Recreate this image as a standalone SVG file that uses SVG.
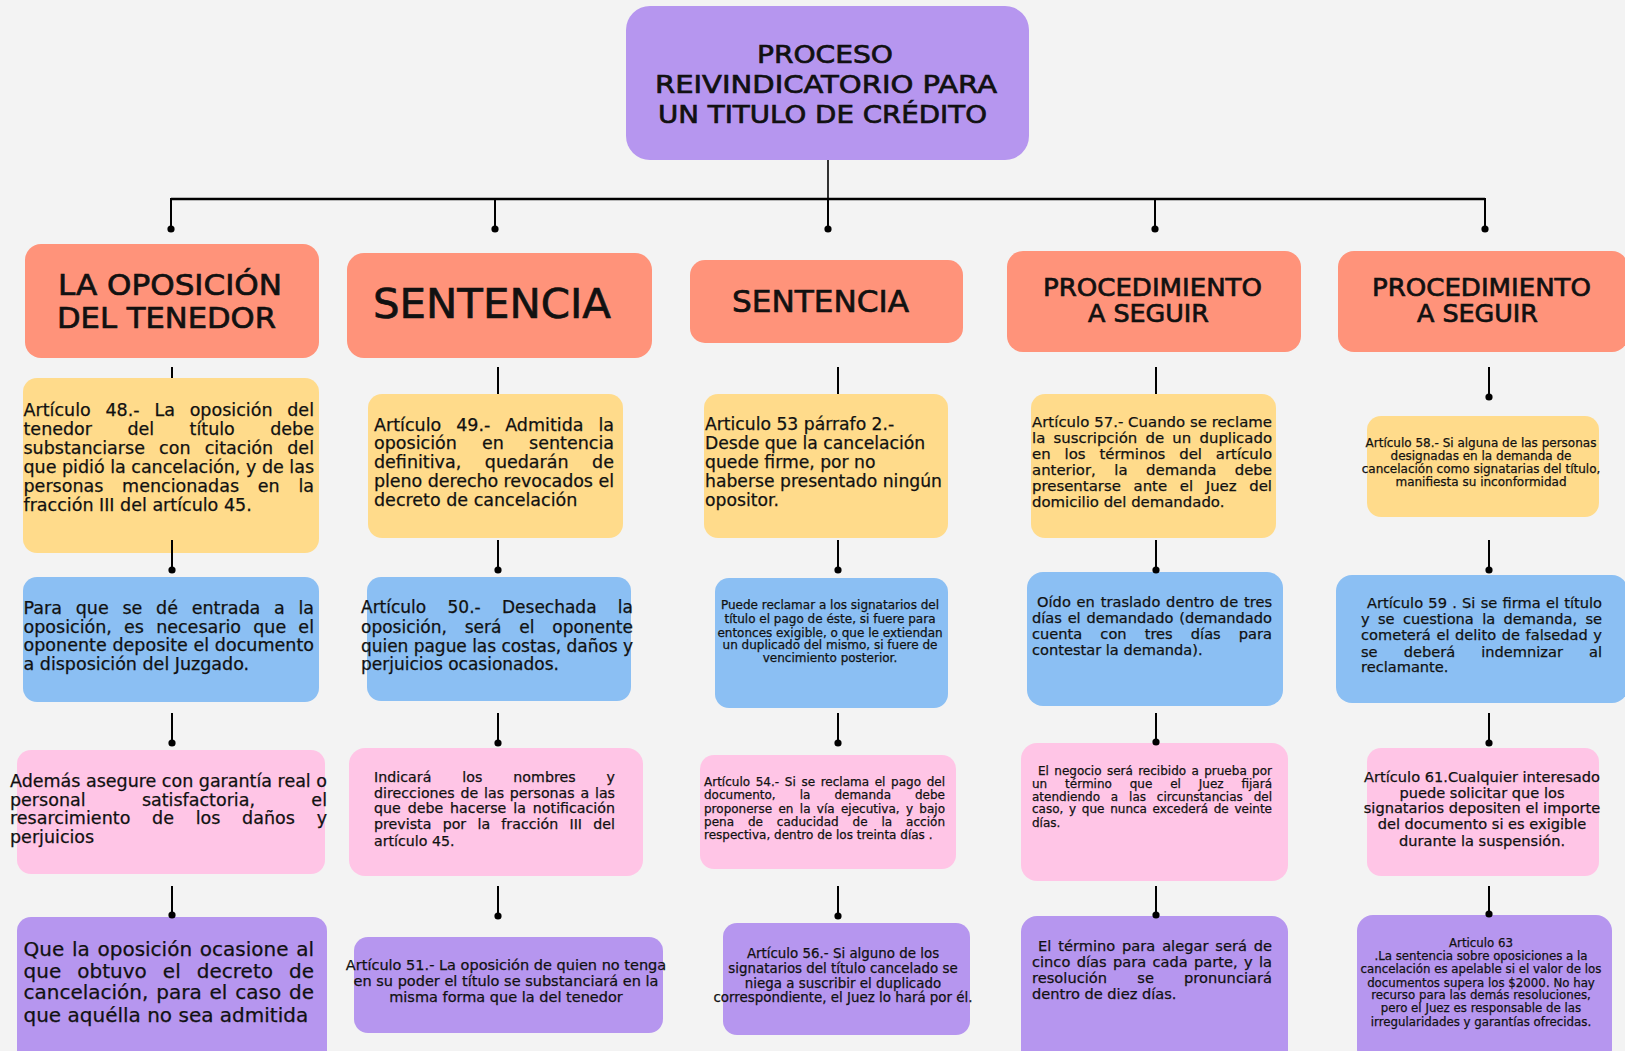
<svg xmlns="http://www.w3.org/2000/svg" width="1625" height="1051" viewBox="0 0 1625 1051">
<defs>
<style>
.hd{fill:#FF937A}.ye{fill:#FFDB8B}.bl{fill:#8BBFF3}.pk{fill:#FFC5E6}.pu{fill:#B696EF}
text{font-family:"DejaVu Sans","Liberation Sans",sans-serif;fill:#111;stroke:#111;stroke-width:0.25}
.ttl text{stroke-width:0.7}
.c{text-anchor:middle}
.conn line{stroke:#000;stroke-width:2}
.conn .bar{stroke-width:2.6}
</style>
<marker id="dot" markerUnits="userSpaceOnUse" markerWidth="9" markerHeight="9" refX="4.5" refY="4.5"><circle cx="4.5" cy="4.5" r="3.6" fill="#000"/></marker>
</defs>
<rect width="1625" height="1051" fill="#f3f3f3"/>

<g id="root" class="ttl">
<rect class="pu" x="626" y="6" width="403" height="154" rx="24"/>
<g font-size="25">
<text x="757" y="63" textLength="136" lengthAdjust="spacingAndGlyphs">PROCESO</text>
<text x="655" y="93" textLength="342" lengthAdjust="spacingAndGlyphs">REIVINDICATORIO PARA</text>
<text x="658" y="123" textLength="329" lengthAdjust="spacingAndGlyphs">UN TITULO DE CRÉDITO</text>
</g>
</g>

<!-- Column 1 -->
<g id="h1" class="ttl">
<rect class="hd" x="25" y="244" width="294" height="114" rx="16"/>
<g font-size="28.5">
<text x="58" y="295" textLength="224" lengthAdjust="spacingAndGlyphs">LA OPOSICIÓN</text>
<text x="57" y="328" textLength="219" lengthAdjust="spacingAndGlyphs">DEL TENEDOR</text>
</g>
</g>
<g id="c1y">
<rect class="ye" x="23" y="378" width="296" height="175" rx="14"/>
<g font-size="17.5">
<text x="23.5" y="415.5" word-spacing="9.2" textLength="290.5" lengthAdjust="spacing">Artículo 48.- La oposición del</text>
<text x="23.5" y="434.5" word-spacing="29.9" textLength="290.5" lengthAdjust="spacing">tenedor del título debe</text>
<text x="23.5" y="453.5" word-spacing="8.6" textLength="290.5" lengthAdjust="spacing">substanciarse con citación del</text>
<text x="23.5" y="472.5" textLength="290.5" lengthAdjust="spacing">que pidió la cancelación, y de las</text>
<text x="23.5" y="491.5" word-spacing="13.2" textLength="290.5" lengthAdjust="spacing">personas mencionadas en la</text>
<text x="23.5" y="510.7">fracción III del artículo 45.</text>
</g>
</g>
<g id="c1b">
<rect class="bl" x="23" y="577" width="296" height="125" rx="14"/>
<g font-size="17.5">
<text x="23.5" y="614" word-spacing="8.1" textLength="290.5" lengthAdjust="spacing">Para que se dé entrada a la</text>
<text x="23.5" y="632.7" word-spacing="6.6" textLength="290.5" lengthAdjust="spacing">oposición, es necesario que el</text>
<text x="23.5" y="651.3" textLength="290.5" lengthAdjust="spacing">oponente deposite el documento</text>
<text x="23.5" y="670">a disposición del Juzgado.</text>
</g>
</g>
<g id="c1p">
<rect class="pk" x="17" y="750" width="308" height="124" rx="14"/>
<g font-size="17.5">
<text x="10" y="786.7" textLength="317" lengthAdjust="spacing">Además asegure con garantía real o</text>
<text x="10" y="805.7" word-spacing="50.8" textLength="317" lengthAdjust="spacing">personal satisfactoria, el</text>
<text x="10" y="824.3" word-spacing="16.1" textLength="317" lengthAdjust="spacing">resarcimiento de los daños y</text>
<text x="10" y="842.7">perjuicios</text>
</g>
</g>
<g id="c1u">
<rect class="pu" x="17" y="917" width="310" height="150" rx="14"/>
<g font-size="20">
<text x="23.5" y="956" word-spacing="1.35" textLength="290.5" lengthAdjust="spacing">Que la oposición ocasione al</text>
<text x="23.5" y="977.7" word-spacing="9.6" textLength="290.5" lengthAdjust="spacing">que obtuvo el decreto de</text>
<text x="23.5" y="999.3" word-spacing="1.5" textLength="290.5" lengthAdjust="spacing">cancelación, para el caso de</text>
<text x="23.5" y="1021.7">que aquélla no sea admitida</text>
</g>
</g>

<!-- Column 2 -->
<g id="h2" class="ttl">
<rect class="hd" x="347" y="253" width="305" height="105" rx="17"/>
<text x="373" y="318" font-size="41" textLength="238" lengthAdjust="spacingAndGlyphs">SENTENCIA</text>
</g>
<g id="c2y">
<rect class="ye" x="368" y="394" width="255" height="144" rx="14"/>
<g font-size="17.5">
<text x="374" y="430.7" word-spacing="9.3" textLength="240" lengthAdjust="spacing">Artículo 49.- Admitida la</text>
<text x="374" y="449.3" word-spacing="19.6" textLength="240" lengthAdjust="spacing">oposición en sentencia</text>
<text x="374" y="468" word-spacing="18" textLength="240" lengthAdjust="spacing">definitiva, quedarán de</text>
<text x="374" y="487" textLength="240" lengthAdjust="spacing">pleno derecho revocados el</text>
<text x="374" y="506">decreto de cancelación</text>
</g>
</g>
<g id="c2b">
<rect class="bl" x="367" y="577" width="264" height="124" rx="14"/>
<g font-size="17">
<text x="361" y="613.3" word-spacing="15.9" textLength="272" lengthAdjust="spacing">Artículo 50.- Desechada la</text>
<text x="361" y="632.7" word-spacing="12.4" textLength="272" lengthAdjust="spacing">oposición, será el oponente</text>
<text x="361" y="651.7" textLength="272" lengthAdjust="spacing">quien pague las costas, daños y</text>
<text x="361" y="670">perjuicios ocasionados.</text>
</g>
</g>
<g id="c2p">
<rect class="pk" x="349" y="748" width="294" height="128" rx="16"/>
<g font-size="14.2">
<text x="374" y="781.7" word-spacing="26.4" textLength="241" lengthAdjust="spacing">Indicará los nombres y</text>
<text x="374" y="797.7" word-spacing="1.2" textLength="241" lengthAdjust="spacing">direcciones de las personas a las</text>
<text x="374" y="813.3" word-spacing="2.4" textLength="241" lengthAdjust="spacing">que debe hacerse la notificación</text>
<text x="374" y="829.3" word-spacing="6.7" textLength="241" lengthAdjust="spacing">prevista por la fracción III del</text>
<text x="374" y="845.7">artículo 45.</text>
</g>
</g>
<g id="c2u">
<rect class="pu" x="354" y="937" width="309" height="96" rx="14"/>
<g font-size="14.5" class="c">
<text x="506" y="970">Artículo 51.- La oposición de quien no tenga</text>
<text x="506" y="986">en su poder el título se substanciará en la</text>
<text x="506" y="1002.3">misma forma que la del tenedor</text>
</g>
</g>

<!-- Column 3 -->
<g id="h3" class="ttl">
<rect class="hd" x="690" y="260" width="273" height="83" rx="15"/>
<text x="732" y="312" font-size="31" textLength="177" lengthAdjust="spacingAndGlyphs">SENTENCIA</text>
</g>
<g id="c3y">
<rect class="ye" x="704" y="394" width="244" height="144" rx="14"/>
<g font-size="17.2">
<text x="705" y="430">Articulo 53 párrafo 2.-</text>
<text x="705" y="449.3">Desde que la cancelación</text>
<text x="705" y="468">quede firme, por no</text>
<text x="705" y="486.7">haberse presentado ningún</text>
<text x="705" y="505.7">opositor.</text>
</g>
</g>
<g id="c3b">
<rect class="bl" x="715" y="578" width="233" height="130" rx="14"/>
<g font-size="12" class="c">
<text x="830" y="609.3">Puede reclamar a los signatarios del</text>
<text x="830" y="623.3">título el pago de éste, si fuere para</text>
<text x="830" y="636.7">entonces exigible, o que le extiendan</text>
<text x="830" y="649.3">un duplicado del mismo, si fuere de</text>
<text x="830" y="662.3">vencimiento posterior.</text>
</g>
</g>
<g id="c3p">
<rect class="pk" x="700" y="755" width="256" height="114" rx="14"/>
<g font-size="12">
<text x="704" y="786" word-spacing="1.8" textLength="241" lengthAdjust="spacing">Artículo 54.- Si se reclama el pago del</text>
<text x="704" y="799.3" word-spacing="20.2" textLength="241" lengthAdjust="spacing">documento, la demanda debe</text>
<text x="704" y="812.7" word-spacing="2.5" textLength="241" lengthAdjust="spacing">proponerse en la vía ejecutiva, y bajo</text>
<text x="704" y="825.7" word-spacing="10.1" textLength="241" lengthAdjust="spacing">pena de caducidad de la acción</text>
<text x="704" y="839">respectiva, dentro de los treinta días .</text>
</g>
</g>
<g id="c3u">
<rect class="pu" x="723" y="923" width="247" height="112" rx="14"/>
<g font-size="13.4" class="c">
<text x="843" y="958.3">Artículo 56.- Si alguno de los</text>
<text x="843" y="972.7">signatarios del título cancelado se</text>
<text x="843" y="987.7">niega a suscribir el duplicado</text>
<text x="843" y="1002.3">correspondiente, el Juez lo hará por él.</text>
</g>
</g>

<!-- Column 4 -->
<g id="h4" class="ttl">
<rect class="hd" x="1007" y="251" width="294" height="101" rx="16"/>
<g font-size="24.5">
<text x="1043" y="296" textLength="219" lengthAdjust="spacingAndGlyphs">PROCEDIMIENTO</text>
<text x="1088" y="322" textLength="121" lengthAdjust="spacingAndGlyphs">A SEGUIR</text>
</g>
</g>
<g id="c4y">
<rect class="ye" x="1031" y="394" width="245" height="144" rx="14"/>
<g font-size="14.9">
<text x="1032" y="426.7" textLength="240" lengthAdjust="spacing">Artículo 57.- Cuando se reclame</text>
<text x="1032" y="442.7" word-spacing="3.5" textLength="240" lengthAdjust="spacing">la suscripción de un duplicado</text>
<text x="1032" y="459" word-spacing="9.1" textLength="240" lengthAdjust="spacing">en los términos del artículo</text>
<text x="1032" y="475" word-spacing="13.7" textLength="240" lengthAdjust="spacing">anterior, la demanda debe</text>
<text x="1032" y="490.7" word-spacing="7.9" textLength="240" lengthAdjust="spacing">presentarse ante el Juez del</text>
<text x="1032" y="506.7">domicilio del demandado.</text>
</g>
</g>
<g id="c4b">
<rect class="bl" x="1027" y="572" width="256" height="134" rx="16"/>
<g font-size="14.6">
<text x="1037" y="606.7" word-spacing="1.1" textLength="235" lengthAdjust="spacing">Oído en traslado dentro de tres</text>
<text x="1032" y="622.7" word-spacing="1.1" textLength="240" lengthAdjust="spacing">días el demandado (demandado</text>
<text x="1032" y="639" word-spacing="13.4" textLength="240" lengthAdjust="spacing">cuenta con tres días para</text>
<text x="1032" y="655">contestar la demanda).</text>
</g>
</g>
<g id="c4p">
<rect class="pk" x="1021" y="743" width="267" height="138" rx="16"/>
<g font-size="12">
<text x="1038" y="775" word-spacing="1.5" textLength="234" lengthAdjust="spacing">El negocio será recibido a prueba por</text>
<text x="1032" y="787.7" word-spacing="14" textLength="240" lengthAdjust="spacing">un término que el Juez fijará</text>
<text x="1032" y="800.7" word-spacing="7" textLength="240" lengthAdjust="spacing">atendiendo a las circunstancias del</text>
<text x="1032" y="813.3" word-spacing="1.8" textLength="240" lengthAdjust="spacing">caso, y que nunca excederá de veinte</text>
<text x="1032" y="826.7">días.</text>
</g>
</g>
<g id="c4u">
<rect class="pu" x="1021" y="916" width="267" height="150" rx="16"/>
<g font-size="14.6">
<text x="1038" y="950.7" word-spacing="2.2" textLength="234" lengthAdjust="spacing">El término para alegar será de</text>
<text x="1032" y="966.7" word-spacing="1.7" textLength="240" lengthAdjust="spacing">cinco días para cada parte, y la</text>
<text x="1032" y="982.7" word-spacing="25.5" textLength="240" lengthAdjust="spacing">resolución se pronunciará</text>
<text x="1032" y="998.7">dentro de diez días.</text>
</g>
</g>

<!-- Column 5 -->
<g id="h5" class="ttl">
<rect class="hd" x="1338" y="251" width="290" height="101" rx="16"/>
<g font-size="24.5">
<text x="1372" y="296" textLength="219" lengthAdjust="spacingAndGlyphs">PROCEDIMIENTO</text>
<text x="1417" y="322" textLength="121" lengthAdjust="spacingAndGlyphs">A SEGUIR</text>
</g>
</g>
<g id="c5y">
<rect class="ye" x="1367" y="416" width="232" height="101" rx="14"/>
<g font-size="12" class="c">
<text x="1481" y="446.7">Artículo 58.- Si alguna de las personas</text>
<text x="1481" y="460">designadas en la demanda de</text>
<text x="1481" y="472.7">cancelación como signatarias del título,</text>
<text x="1481" y="485.7">manifiesta su inconformidad</text>
</g>
</g>
<g id="c5b">
<rect class="bl" x="1336" y="575" width="292" height="128" rx="16"/>
<g font-size="14.6">
<text x="1367" y="608.3" word-spacing="0.6" textLength="235" lengthAdjust="spacing">Artículo 59 . Si se firma el título</text>
<text x="1361" y="624.3" word-spacing="3.7" textLength="241" lengthAdjust="spacing">y se cuestiona la demanda, se</text>
<text x="1361" y="640.3" word-spacing="1" textLength="241" lengthAdjust="spacing">cometerá el delito de falsedad y</text>
<text x="1361" y="656.7" word-spacing="21.4" textLength="241" lengthAdjust="spacing">se deberá indemnizar al</text>
<text x="1361" y="672.3">reclamante.</text>
</g>
</g>
<g id="c5p">
<rect class="pk" x="1367" y="748" width="232" height="128" rx="14"/>
<g font-size="14.6" class="c">
<text x="1482" y="781.7">Artículo 61.Cualquier interesado</text>
<text x="1482" y="797.7">puede solicitar que los</text>
<text x="1482" y="813.3">signatarios depositen el importe</text>
<text x="1482" y="829.3">del documento si es exigible</text>
<text x="1482" y="845.7">durante la suspensión.</text>
</g>
</g>
<g id="c5u">
<rect class="pu" x="1357" y="915" width="255" height="150" rx="16"/>
<g font-size="11.8" class="c">
<text x="1481" y="946.7">Articulo 63</text>
<text x="1481" y="960">.La sentencia sobre oposiciones a la</text>
<text x="1481" y="972.7">cancelación es apelable si el valor de los</text>
<text x="1481" y="986.7">documentos supera los $2000. No hay</text>
<text x="1481" y="999.3">recurso para las demás resoluciones,</text>
<text x="1481" y="1012.3">pero el Juez es responsable de las</text>
<text x="1481" y="1025.7">irregularidades y garantías ofrecidas.</text>
</g>
</g>

<g id="connectors" class="conn">
<line x1="828" y1="160" x2="828" y2="199" style="stroke-width:1.6"/>
<line class="bar" x1="171" y1="199" x2="1485" y2="199"/>
<line x1="171" y1="198" x2="171" y2="229" marker-end="url(#dot)"/>
<line x1="495" y1="198" x2="495" y2="229" marker-end="url(#dot)"/>
<line x1="828" y1="198" x2="828" y2="229" marker-end="url(#dot)"/>
<line x1="1155" y1="198" x2="1155" y2="229" marker-end="url(#dot)"/>
<line x1="1485" y1="198" x2="1485" y2="229" marker-end="url(#dot)"/>

<line x1="172" y1="367" x2="172" y2="378"/>
<line x1="172" y1="540" x2="172" y2="570" marker-end="url(#dot)"/>
<line x1="172" y1="713" x2="172" y2="743" marker-end="url(#dot)"/>
<line x1="172" y1="886" x2="172" y2="915" marker-end="url(#dot)"/>

<line x1="498" y1="367" x2="498" y2="394"/>
<line x1="498" y1="540" x2="498" y2="570" marker-end="url(#dot)"/>
<line x1="498" y1="713" x2="498" y2="743" marker-end="url(#dot)"/>
<line x1="498" y1="886" x2="498" y2="916" marker-end="url(#dot)"/>

<line x1="838" y1="367" x2="838" y2="394"/>
<line x1="838" y1="540" x2="838" y2="570" marker-end="url(#dot)"/>
<line x1="838" y1="713" x2="838" y2="743" marker-end="url(#dot)"/>
<line x1="838" y1="886" x2="838" y2="916" marker-end="url(#dot)"/>

<line x1="1156" y1="367" x2="1156" y2="394"/>
<line x1="1156" y1="540" x2="1156" y2="570" marker-end="url(#dot)"/>
<line x1="1156" y1="713" x2="1156" y2="742" marker-end="url(#dot)"/>
<line x1="1156" y1="886" x2="1156" y2="915" marker-end="url(#dot)"/>

<line x1="1489" y1="367" x2="1489" y2="397" marker-end="url(#dot)"/>
<line x1="1489" y1="540" x2="1489" y2="570" marker-end="url(#dot)"/>
<line x1="1489" y1="713" x2="1489" y2="743" marker-end="url(#dot)"/>
<line x1="1489" y1="886" x2="1489" y2="914" marker-end="url(#dot)"/>
</g>
</svg>
